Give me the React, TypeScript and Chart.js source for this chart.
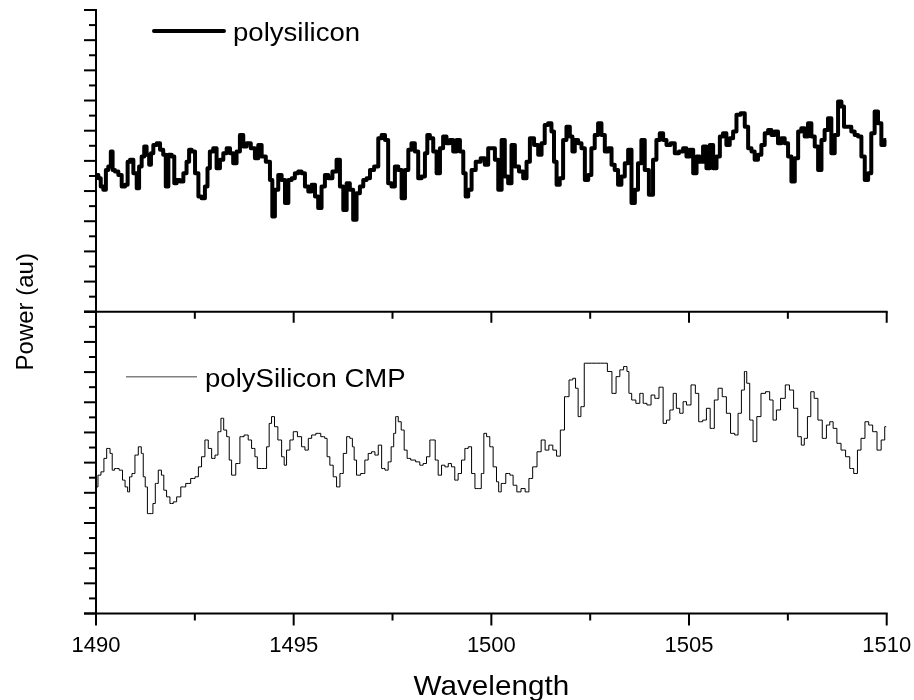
import React, { useEffect, useRef } from 'react';
import { Chart, registerables } from 'chart.js';

Chart.register(...registerables);

// ---- axes ----
const X_MIN = 1490;
const X_MAX = 1510;
const X_MAJOR_TICKS = [1490, 1495, 1500, 1505, 1510];
const X_MINOR_TICKS = [1492.5, 1497.5, 1502.5, 1507.5];
const Y_MIN = 0;
const Y_MAX = 20;
const Y_TICKS = [0, 1, 2, 3, 4, 5, 6, 7, 8, 9, 10, 11, 12, 13, 14, 15, 16, 17, 18, 19, 20];

// ---- text ----
const SERIES_LABELS = ['polysilicon', 'polySilicon CMP'];
const X_TITLE = 'Wavelength';
const Y_TITLE = 'Power (au)';

// ---- series: polysilicon (top panel) ----
const polyWl = [
  1490.02, 1490.10, 1490.14, 1490.23, 1490.27, 1490.35, 1490.40, 1490.44, 1490.52, 1490.61,
  1490.69, 1490.78, 1490.82, 1490.90, 1490.99, 1491.07, 1491.11, 1491.20, 1491.24, 1491.32,
  1491.37, 1491.41, 1491.49, 1491.58, 1491.66, 1491.74, 1491.79, 1491.87, 1491.96, 1492.00,
  1492.08, 1492.17, 1492.25, 1492.33, 1492.38, 1492.46, 1492.55, 1492.63, 1492.71, 1492.80,
  1492.84, 1492.92, 1493.01, 1493.09, 1493.18, 1493.26, 1493.35, 1493.43, 1493.51, 1493.60,
  1493.68, 1493.77, 1493.85, 1493.98, 1494.06, 1494.15, 1494.23, 1494.36, 1494.44, 1494.48,
  1494.57, 1494.65, 1494.74, 1494.82, 1494.91, 1494.99, 1495.07, 1495.16, 1495.24, 1495.33,
  1495.41, 1495.50, 1495.58, 1495.66, 1495.75, 1495.83, 1495.92, 1496.04, 1496.13, 1496.21,
  1496.30, 1496.38, 1496.46, 1496.55, 1496.63, 1496.72, 1496.80, 1496.89, 1496.97, 1497.10,
  1497.18, 1497.27, 1497.35, 1497.43, 1497.52, 1497.60, 1497.69, 1497.77, 1497.86, 1497.94,
  1498.02, 1498.11, 1498.19, 1498.28, 1498.36, 1498.40, 1498.49, 1498.57, 1498.66, 1498.74,
  1498.82, 1498.91, 1498.99, 1499.08, 1499.16, 1499.25, 1499.33, 1499.37, 1499.46, 1499.54,
  1499.67, 1499.79, 1499.88, 1499.96, 1500.05, 1500.13, 1500.22,
  1500.30, 1500.38, 1500.47, 1500.55, 1500.64, 1500.76, 1500.85, 1500.93, 1501.02, 1501.14,
  1501.23, 1501.31, 1501.39, 1501.48, 1501.56, 1501.61, 1501.69, 1501.77, 1501.86, 1501.94,
  1502.03, 1502.07, 1502.15, 1502.24, 1502.32, 1502.41, 1502.49, 1502.57, 1502.66, 1502.74,
  1502.83, 1502.91, 1503.00, 1503.08, 1503.16, 1503.25, 1503.33, 1503.42, 1503.50, 1503.59,
  1503.67, 1503.75, 1503.84, 1503.92, 1504.05, 1504.13, 1504.22, 1504.30, 1504.39, 1504.47,
  1504.60, 1504.68, 1504.81, 1504.89, 1504.98, 1505.06, 1505.15, 1505.23, 1505.31, 1505.40,
  1505.48, 1505.57, 1505.65, 1505.74, 1505.82, 1505.90, 1505.99, 1506.07, 1506.16, 1506.24,
  1506.37, 1506.45, 1506.54, 1506.62, 1506.70, 1506.79, 1506.87, 1506.96, 1507.04, 1507.13,
  1507.21, 1507.29, 1507.38, 1507.46, 1507.55, 1507.63, 1507.72, 1507.80, 1507.88, 1507.97,
  1508.05, 1508.14, 1508.22, 1508.31, 1508.39, 1508.47, 1508.56, 1508.64, 1508.73, 1508.81,
  1508.90, 1508.94, 1509.06, 1509.15, 1509.23, 1509.32, 1509.40, 1509.49, 1509.57, 1509.65,
  1509.74, 1509.82, 1509.91, 1509.99,
];
const polyPower = [
  9.07, 8.85, 8.30, 8.08, 9.40, 9.62, 10.62, 9.40, 9.29, 9.07,
  8.30, 8.41, 9.95, 10.07, 9.18, 8.19, 9.62, 10.29, 10.95, 10.40,
  9.74, 10.51, 11.06, 11.17, 10.73, 10.40, 8.30, 10.40, 10.29, 8.52,
  8.74, 8.63, 9.18, 9.95, 10.73, 10.62, 9.18, 7.64, 7.53, 8.30,
  9.51, 10.62, 10.84, 9.51, 10.07, 10.51, 10.84, 10.51, 9.85, 10.62,
  11.72, 10.95, 11.17, 10.84, 10.18, 11.06, 10.29, 9.95, 8.74, 6.31,
  8.08, 9.07, 8.74, 7.20, 8.74, 8.85, 9.18, 9.29, 9.18, 8.30,
  7.97, 8.41, 7.64, 6.87, 8.30, 9.07, 8.85, 9.29, 10.07, 8.30,
  6.75, 8.52, 8.08, 6.09, 7.86, 8.30, 8.74, 8.85, 9.40, 9.62,
  11.50, 11.72, 11.39, 8.52, 8.30, 9.62, 9.40, 7.53, 9.40, 10.73,
  11.17, 10.62, 8.85, 8.96, 10.51, 11.72, 11.50, 10.62, 9.18, 10.84,
  11.61, 11.17, 11.39, 10.62, 11.39, 10.62, 9.18, 7.64, 8.08, 9.40,
  9.95, 10.18, 9.74, 10.84, 10.84, 10.07, 8.08,
  11.39, 8.96, 8.52, 11.06, 9.62, 9.29, 8.85, 9.95, 11.50, 11.06,
  10.40, 11.17, 12.38, 12.49, 11.94, 9.95, 8.41, 8.85, 11.39, 12.27,
  11.61, 10.62, 11.39, 11.17, 10.84, 8.74, 9.07, 10.84, 11.72, 12.49,
  11.72, 10.62, 10.84, 9.74, 9.40, 8.41, 8.96, 9.85, 10.73, 7.20,
  8.08, 9.85, 11.39, 9.40, 7.75, 10.07, 11.39, 11.83, 11.39, 11.06,
  11.17, 10.51, 10.62, 10.84, 10.29, 10.73, 9.18, 10.29, 9.95, 10.95,
  9.51, 11.06, 9.51, 10.29, 11.61, 11.83, 11.06, 11.50, 11.94, 13.05,
  13.15, 12.27, 10.84, 10.62, 10.07, 10.40, 11.06, 11.83, 12.05, 11.72,
  11.94, 11.17, 11.50, 11.17, 10.29, 8.63, 10.18, 11.94, 12.16, 11.61,
  12.49, 11.61, 10.95, 9.40, 11.39, 12.05, 12.82, 10.51, 11.72, 13.93,
  13.60, 12.27, 12.27, 11.94, 11.72, 11.61, 10.29, 8.74, 9.18, 11.83,
  13.27, 12.49, 11.06, 11.39,
];

// ---- series: polySilicon CMP (bottom panel) ----
const cmpWl = [
  1490.02, 1490.08, 1490.17, 1490.23, 1490.31, 1490.40, 1490.42, 1490.52, 1490.65, 1490.69,
  1490.78, 1490.82, 1490.88, 1490.94, 1491.03, 1491.11, 1491.18, 1491.21, 1491.28, 1491.32,
  1491.41, 1491.47, 1491.53, 1491.62, 1491.69, 1491.74, 1491.83, 1491.91, 1492.00, 1492.08,
  1492.21, 1492.33, 1492.46, 1492.55, 1492.63, 1492.71, 1492.80, 1492.88, 1492.97, 1493.05,
  1493.12, 1493.20, 1493.26, 1493.35, 1493.39, 1493.47, 1493.60, 1493.68, 1493.81, 1493.89,
  1493.98, 1494.06, 1494.10, 1494.27, 1494.36, 1494.40, 1494.48, 1494.55, 1494.65, 1494.74,
  1494.78, 1494.86, 1494.95, 1495.03, 1495.16, 1495.24, 1495.33, 1495.41, 1495.50, 1495.62,
  1495.75, 1495.82, 1495.87, 1495.96, 1496.04, 1496.13, 1496.21, 1496.30, 1496.38, 1496.46,
  1496.51, 1496.55, 1496.63, 1496.76, 1496.84, 1496.93, 1497.01, 1497.10, 1497.18, 1497.27,
  1497.35, 1497.43, 1497.50, 1497.56, 1497.60, 1497.69, 1497.75, 1497.84, 1497.90, 1498.02,
  1498.15, 1498.23, 1498.32, 1498.40, 1498.49, 1498.55, 1498.61, 1498.70, 1498.78, 1498.87,
  1498.95, 1499.03, 1499.12, 1499.20, 1499.29, 1499.37, 1499.46, 1499.54, 1499.63, 1499.71,
  1499.78, 1499.84, 1499.92, 1500.00, 1500.09, 1500.17,
  1500.20, 1500.30, 1500.43, 1500.51, 1500.59, 1500.70, 1500.80, 1500.91, 1500.99, 1501.10,
  1501.21, 1501.31, 1501.41, 1501.50, 1501.61, 1501.69, 1501.80, 1501.90, 1502.03, 1502.09,
  1502.17, 1502.22, 1502.31, 1502.39, 1502.66, 1502.87, 1503.00, 1503.10, 1503.21, 1503.29,
  1503.40, 1503.46, 1503.50, 1503.60, 1503.71, 1503.80, 1503.88, 1503.99, 1504.09, 1504.18,
  1504.30, 1504.39, 1504.47, 1504.56, 1504.64, 1504.72, 1504.81, 1504.89, 1504.98, 1505.12,
  1505.20, 1505.29, 1505.40, 1505.48, 1505.59, 1505.69, 1505.78, 1505.90, 1505.99, 1506.11,
  1506.20, 1506.28, 1506.37, 1506.43, 1506.49, 1506.58, 1506.66, 1506.77, 1506.87, 1507.00,
  1507.08, 1507.17, 1507.25, 1507.38, 1507.49, 1507.59, 1507.70, 1507.80, 1507.88, 1507.95,
  1508.04, 1508.12, 1508.21, 1508.31, 1508.43, 1508.52, 1508.60, 1508.69, 1508.79, 1508.90,
  1509.02, 1509.11, 1509.22, 1509.30, 1509.40, 1509.50, 1509.59, 1509.70, 1509.81, 1509.91, 1509.99,
];
const cmpPower = [
  8.39, 9.17, 9.39, 10.28, 10.94, 10.61, 9.50, 9.61, 9.50, 8.84,
  8.39, 8.06, 9.06, 9.28, 10.50, 11.05, 10.61, 9.06, 8.39, 6.62,
  6.62, 7.29, 8.62, 9.50, 9.17, 8.17, 7.73, 7.29, 7.40, 7.73,
  8.39, 8.62, 8.95, 9.06, 9.72, 10.39, 11.50, 10.94, 10.28, 10.50,
  12.05, 12.94, 12.16, 11.72, 10.17, 9.17, 9.94, 11.72, 11.83, 11.50,
  10.94, 10.39, 9.61, 9.61, 11.05, 12.60, 13.05, 12.38, 11.50, 10.39,
  9.83, 10.83, 11.50, 12.05, 11.72, 11.05, 10.83, 11.61, 11.83, 11.94,
  11.72, 11.61, 10.39, 9.83, 9.06, 8.39, 9.28, 10.61, 11.72, 11.61,
  11.05, 10.17, 9.17, 9.28, 10.17, 10.61, 10.72, 10.50, 11.16, 9.61,
  9.50, 10.05, 11.05, 11.94, 13.05, 12.71, 12.16, 10.83, 10.28, 10.17,
  10.05, 9.83, 9.94, 10.39, 11.50, 11.50, 10.17, 9.17, 9.83, 9.72,
  9.94, 9.72, 8.84, 9.28, 10.17, 10.94, 11.05, 9.28, 8.28, 8.28,
  9.28, 11.94, 11.72, 11.05, 9.72, 8.73,
  8.06, 8.62, 9.28, 9.17, 8.50, 8.06, 8.28, 8.06, 8.95, 9.72,
  10.72, 11.50, 10.83, 11.16, 10.83, 10.43, 12.16, 14.37, 15.48, 15.59,
  14.93, 13.05, 13.71, 16.59, 16.59, 16.59, 16.04, 14.59, 15.70, 16.15,
  16.37, 16.04, 14.59, 14.15, 13.93, 14.59, 13.93, 13.82, 14.48, 14.26,
  15.00, 12.60, 12.82, 13.49, 14.59, 13.60, 13.27, 14.04, 13.82, 15.15,
  14.59, 12.71, 12.82, 13.60, 12.27, 14.15, 14.93, 14.37, 13.27, 11.94,
  11.83, 13.27, 14.81, 16.04, 15.26, 12.82, 11.39, 13.05, 14.59, 14.70,
  14.15, 12.82, 13.49, 14.26, 15.15, 14.81, 13.60, 11.72, 11.16, 11.61,
  13.05, 14.70, 14.26, 12.82, 11.61, 12.49, 12.71, 12.27, 11.28, 10.83,
  10.39, 9.61, 9.28, 10.83, 11.61, 12.71, 12.49, 12.05, 10.83, 11.50, 12.38,
];

const FONT = "'Liberation Sans', Arial, Helvetica, sans-serif";

const toPoints = (xs: number[], ys: number[]) => xs.map((x, i) => ({ x, y: ys[i] }));

const framePlugin = {
  id: 'frame',
  afterDraw(chart: any) {
    const ctx: CanvasRenderingContext2D = chart.ctx;
    const sx = chart.scales.x;
    const yt = chart.scales.yTop;
    const yb = chart.scales.yBot;
    const left = sx.getPixelForValue(X_MIN);
    const right = sx.getPixelForValue(X_MAX);
    const midY = yt.getPixelForValue(Y_MIN);
    const topY = yt.getPixelForValue(Y_MAX);
    const botY = yb.getPixelForValue(Y_MIN);
    const seg = (x1: number, y1: number, x2: number, y2: number) => {
      ctx.beginPath();
      ctx.moveTo(x1, y1);
      ctx.lineTo(x2, y2);
      ctx.stroke();
    };
    const text = (s: string, x: number, y: number, size: number, stretch: number, align: CanvasTextAlign) => {
      ctx.save();
      ctx.translate(x, y);
      ctx.scale(stretch, 1);
      ctx.font = `${size}px ${FONT}`;
      ctx.textAlign = align;
      ctx.textBaseline = 'alphabetic';
      ctx.fillText(s, 0, 0);
      ctx.restore();
    };
    ctx.save();
    ctx.strokeStyle = '#000';
    ctx.lineWidth = 2;
    ctx.lineCap = 'butt';
    // axis lines
    seg(left, topY - 1, left, botY + 1);
    seg(left - 12, midY, right + 1, midY);
    seg(left - 12, botY, right + 1, botY);
    // y ticks (outward, left)
    for (const s of [yt, yb]) {
      for (const v of Y_TICKS) {
        const p = s.getPixelForValue(v);
        const len = v % 2 === 0 ? 12 : 7;
        seg(left - len, p, left, p);
      }
    }
    // x ticks: bottom axis (outward) and middle axis (into lower panel)
    for (const v of X_MAJOR_TICKS) {
      const p = sx.getPixelForValue(v);
      seg(p, botY, p, botY + 12);
      seg(p, midY, p, midY + 11);
    }
    for (const v of X_MINOR_TICKS) {
      const p = sx.getPixelForValue(v);
      seg(p, botY, p, botY + 7);
      seg(p, midY, p, midY + 7);
    }
    ctx.fillStyle = '#000';
    // x tick labels
    for (const v of X_MAJOR_TICKS) {
      text(String(v), sx.getPixelForValue(v), botY + 38, 22, 1, 'center');
    }
    // x title
    text(X_TITLE, (left + right) / 2, botY + 81, 28, 1.06, 'center');
    // legends
    ctx.lineCap = 'round';
    ctx.lineWidth = 4;
    seg(left + 58, topY + 21, left + 128, topY + 21);
    text(chart.data.datasets[0].label, left + 137, topY + 31, 26, 1.06, 'left');
    ctx.lineCap = 'butt';
    ctx.strokeStyle = '#808080';
    ctx.lineWidth = 1.5;
    seg(left + 30, midY + 65, left + 101, midY + 65);
    text(chart.data.datasets[1].label, left + 109, midY + 75, 26, 1.06, 'left');
    // y title
    ctx.save();
    ctx.translate(26, (topY + botY) / 2);
    ctx.rotate(-Math.PI / 2);
    ctx.textAlign = 'center';
    ctx.textBaseline = 'middle';
    ctx.font = `24px ${FONT}`;
    ctx.fillText(Y_TITLE, 0, 0);
    ctx.restore();
    ctx.restore();
  },
};

export default function App() {
  const ref = useRef<HTMLCanvasElement>(null);
  useEffect(() => {
    if (!ref.current) return;
    const panelY = (weight: number) => ({
      type: 'linear' as const,
      position: 'left' as const,
      stack: 'panels',
      stackWeight: 1,
      weight,
      min: Y_MIN,
      max: Y_MAX,
      grid: { display: false, drawTicks: false },
      border: { display: false },
      ticks: { display: false },
    });
    const chart = new Chart(ref.current, {
      type: 'line',
      data: {
        datasets: [
          {
            label: SERIES_LABELS[0],
            data: toPoints(polyWl, polyPower),
            yAxisID: 'yTop',
            borderColor: '#000',
            borderWidth: 4,
            borderJoinStyle: 'round',
            pointRadius: 0,
            stepped: 'middle',
            fill: false,
          },
          {
            label: SERIES_LABELS[1],
            data: toPoints(cmpWl, cmpPower),
            yAxisID: 'yBot',
            borderColor: '#000',
            borderWidth: 1,
            pointRadius: 0,
            stepped: 'middle',
            fill: false,
          },
        ],
      },
      options: {
        responsive: false,
        devicePixelRatio: 1,
        animation: false,
        layout: { padding: { left: 96, right: 27.3, top: 10, bottom: 86.5 } },
        plugins: { legend: { display: false }, tooltip: { enabled: false } },
        scales: {
          x: {
            type: 'linear',
            position: 'bottom',
            min: X_MIN,
            max: X_MAX,
            display: false,
          },
          yTop: panelY(1),
          yBot: panelY(0),
        },
      } as any,
      plugins: [framePlugin],
    });
    return () => chart.destroy();
  }, []);
  return (
    <div style={{ position: 'absolute', left: 0, top: 0, width: 914, height: 700, background: '#fff' }}>
      <canvas ref={ref} width={914} height={700} style={{ display: 'block', width: 914, height: 700 }} />
    </div>
  );
}
